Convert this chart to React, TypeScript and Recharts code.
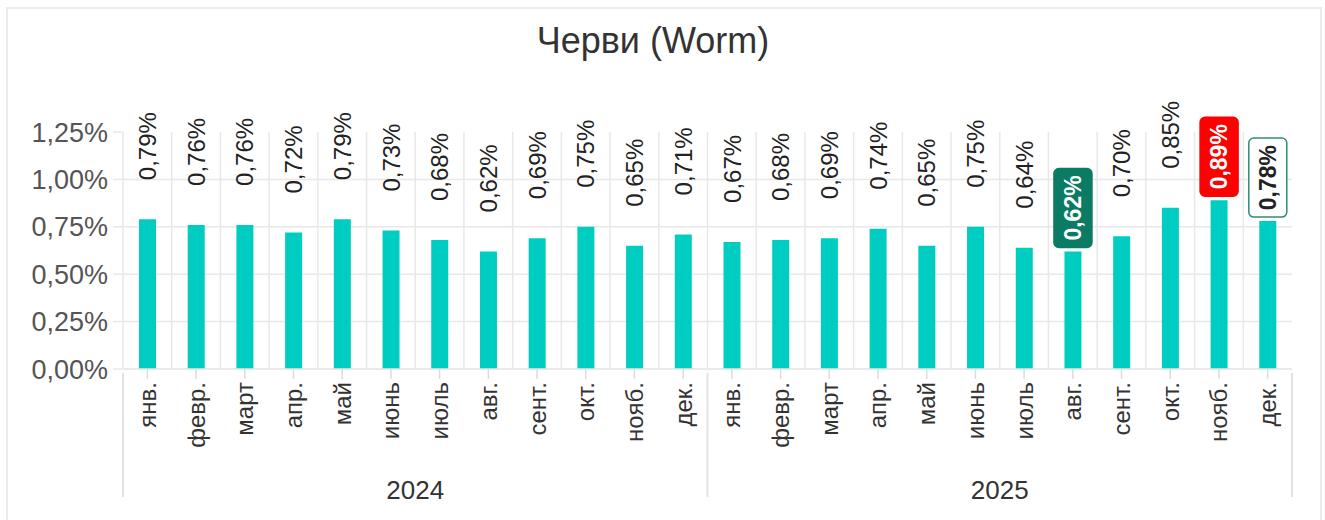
import React from 'react';
import { BarChart, Bar, XAxis, YAxis, CartesianGrid, LabelList } from 'recharts';

const TITLE = 'Черви (Worm)';
const YEARS = ['2024', '2025'];
const MONTHS = ['янв.', 'февр.', 'март', 'апр.', 'май', 'июнь', 'июль', 'авг.', 'сент.', 'окт.', 'нояб.', 'дек.'];
const VALUES_2024 = [0.79, 0.76, 0.76, 0.72, 0.79, 0.73, 0.68, 0.62, 0.69, 0.75, 0.65, 0.71];
const VALUES_2025 = [0.67, 0.68, 0.69, 0.74, 0.65, 0.75, 0.64, 0.62, 0.7, 0.85, 0.89, 0.78];
const Y_TICKS = [0, 0.25, 0.5, 0.75, 1, 1.25];
// indices of labels drawn as badges
const BADGE_GREEN = 19;
const BADGE_RED = 22;
const BADGE_OUTLINE = 23;

const SERIES = [VALUES_2024, VALUES_2025];
const data = YEARS.flatMap((year, yi) =>
  MONTHS.map((month, mi) => ({ year, month, value: SERIES[yi][mi] }))
);

const FONT = '"Liberation Sans", Arial, sans-serif';
const CHART_W = 1325;
const CHART_H = 520;
const MARGIN = { top: 132, right: 33, left: 0, bottom: 0 };
const Y_AXIS_W = 123;
const PLOT_W = CHART_W - MARGIN.left - MARGIN.right - Y_AXIS_W;
const BAR_COLOR = '#00CDC1';
const GRID = '#e8e8e8';

const BADGE_STYLES: Record<number, { fill: string; stroke: string; text: string }> = {
  [BADGE_GREEN]: { fill: '#0c7b63', stroke: '#0c7b63', text: '#ffffff' },
  [BADGE_RED]: { fill: '#ff0000', stroke: '#ff0000', text: '#ffffff' },
  [BADGE_OUTLINE]: { fill: '#ffffff', stroke: '#2f8c78', text: '#222222' },
};

const fmt = (v: number) => v.toFixed(2).replace('.', ',') + '%';

const ValueLabel = (props: any) => {
  const { x, y, width, value, index } = props;
  const cx = Number(x) + Number(width) / 2;
  const top = Number(y);
  const badge = BADGE_STYLES[index];
  if (badge) {
    const bw = 38;
    const bh = 79;
    const by = top - 4 - bh;
    return (
      <g>
        <rect x={cx - bw / 2} y={by} width={bw} height={bh} rx={5} ry={5} fill={badge.fill} stroke={badge.stroke} strokeWidth={1.5} />
        <text
          transform={`translate(${cx},${by + bh / 2}) rotate(-90)`}
          textAnchor="middle"
          dominantBaseline="central"
          fontFamily={FONT}
          fontSize={23}
          fontWeight="bold"
          fill={badge.text}
        >
          {fmt(Number(value))}
        </text>
      </g>
    );
  }
  return (
    <text
      transform={`translate(${cx},${top - 39}) rotate(-90)`}
      textAnchor="start"
      dominantBaseline="central"
      fontFamily={FONT}
      fontSize={24}
      fill="#222"
    >
      {fmt(Number(value))}
    </text>
  );
};

const MonthTick = (props: any) => {
  const { x, y, payload } = props;
  return (
    <text
      transform={`translate(${x},${y}) rotate(-90)`}
      textAnchor="end"
      dominantBaseline="central"
      fontFamily={FONT}
      fontSize={24}
      fill="#333"
    >
      {payload.value}
    </text>
  );
};

const YearTick = (props: any) => {
  const { x, y, payload, index } = props;
  const half = PLOT_W / YEARS.length / 2;
  return (
    <g>
      <line x1={x - half} x2={x - half} y1={y - 96} y2={y + 28} stroke="#e2e2e2" strokeWidth={2} />
      {index === YEARS.length - 1 && (
        <line x1={x + half} x2={x + half} y1={y - 96} y2={y + 28} stroke="#e2e2e2" strokeWidth={2} />
      )}
      <text x={x} y={y + 30} textAnchor="middle" fontFamily={FONT} fontSize={26} fill="#333">
        {payload.value}
      </text>
    </g>
  );
};

const verticalGen = ({ offset }: any) => {
  const n = data.length;
  return Array.from({ length: n }, (_, i) => offset.left + (offset.width * i) / n);
};

const horizontalGen = ({ offset }: any) => {
  const max = Y_TICKS[Y_TICKS.length - 1];
  return Y_TICKS.slice(0, -1).map((v) => offset.top + offset.height * (1 - v / max));
};

export default function App() {
  return (
    <div>
      <div
        style={{
          position: 'absolute',
          left: 6,
          top: 7,
          width: 1316,
          height: 540,
          border: '2px solid #ececec',
          boxSizing: 'border-box',
        }}
      />
      <div
        style={{
          position: 'absolute',
          left: 0,
          top: 23,
          width: 1306,
          textAlign: 'center',
          fontFamily: FONT,
          fontSize: 36,
          lineHeight: '36px',
          color: '#333',
          whiteSpace: 'nowrap',
        }}
      >
        {TITLE}
      </div>
      <div style={{ position: 'absolute', left: 0, top: 0 }}>
        <BarChart width={CHART_W} height={CHART_H} data={data} margin={MARGIN} style={{ fontFamily: FONT }}>
          <CartesianGrid
            stroke={GRID}
            strokeWidth={1.5}
            verticalCoordinatesGenerator={verticalGen}
            horizontalCoordinatesGenerator={horizontalGen}
          />
          <XAxis
            xAxisId="month"
            dataKey="month"
            interval={0}
            height={100}
            tickSize={10}
            tickMargin={3}
            tickLine={{ stroke: '#dcdcdc', strokeWidth: 1.5 }}
            axisLine={{ stroke: GRID, strokeWidth: 1.5 }}
            tick={<MonthTick />}
          />
          <XAxis
            xAxisId="year"
            dataKey="year"
            allowDuplicatedCategory={false}
            interval={0}
            height={51}
            tickSize={0}
            tickMargin={0}
            tickLine={false}
            axisLine={false}
            tick={<YearTick />}
          />
          <YAxis
            width={Y_AXIS_W}
            domain={[0, 1.25]}
            ticks={Y_TICKS}
            tickFormatter={fmt}
            axisLine={false}
            tickSize={10}
            tickMargin={5}
            tickLine={{ stroke: GRID, strokeWidth: 1.5 }}
            tick={{ fontSize: 27, fill: '#555', fontFamily: FONT }}
          />
          <Bar xAxisId="month" dataKey="value" fill={BAR_COLOR} barSize={17} isAnimationActive={false}>
            <LabelList dataKey="value" content={<ValueLabel />} />
          </Bar>
        </BarChart>
      </div>
    </div>
  );
}
